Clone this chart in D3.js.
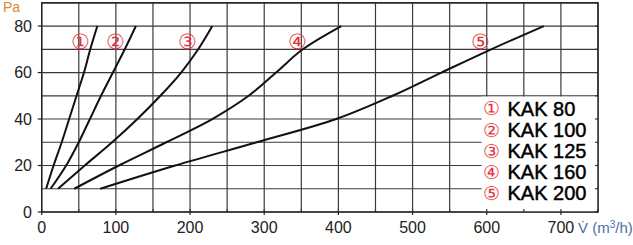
<!DOCTYPE html>
<html>
<head>
<meta charset="utf-8">
<script src="https://cdn.jsdelivr.net/npm/d3@7/dist/d3.min.js"></script>
<style>
  html, body { margin: 0; padding: 0; background: #fff; }
  svg { display: block; }
  text { font-family: "Liberation Sans", Arial, Helvetica, sans-serif; }
</style>
</head>
<body>
<svg id="chart" width="633" height="245"></svg>
<script>
// ---- data (pressure in Pa vs airflow in m³/h) ----
const seriesNames = ["KAK 80", "KAK 100", "KAK 125", "KAK 160", "KAK 200"];
const markers = ["①", "②", "③", "④", "⑤"];
const pressure = [10, 20, 30, 40, 50, 60, 70, 80];
const flowKAK80  = [6, 16, 27, 37, 47, 57, 65.5, 75];
const flowKAK100 = [12, 33, 50, 65, 80, 96, 112, 127];
const flowKAK125 = [22, 58, 95, 129, 160, 188, 211, 230];
const flowKAK160 = [44, 104, 168, 230, 279, 316, 352, 404];
const flowKAK200 = [79, 180, 290, 397, 473, 539, 606, 677];
const flows = [flowKAK80, flowKAK100, flowKAK125, flowKAK160, flowKAK200];
const markerFlow = [52, 99, 197, 345, 592];
const markerPressure = 73.5;
const xTicks = [0, 100, 200, 300, 400, 500, 600, 700];
const yTicks = [0, 20, 40, 60, 80];
const xGrid = d3.range(0, 751, 50);
const yGrid = d3.range(0, 91, 10);

// ---- scales ----
const x = d3.scaleLinear().domain([0, 750]).range([41.7, 598]);
const y = d3.scaleLinear().domain([0, 90]).range([212, 2.8]);

const svg = d3.select("#chart");
const red = "#e4343c";
const cjk = "'Noto Sans CJK JP', 'DejaVu Sans', sans-serif";

// grid
svg.append("g").selectAll("line").data(xGrid).join("line")
  .attr("x1", d => x(d)).attr("x2", d => x(d))
  .attr("y1", y(0)).attr("y2", y(90))
  .attr("stroke", "#3a3a3a").attr("stroke-width", 1.2);
svg.append("g").selectAll("line").data(yGrid).join("line")
  .attr("x1", x(0)).attr("x2", x(750))
  .attr("y1", d => y(d)).attr("y2", d => y(d))
  .attr("stroke", "#3a3a3a").attr("stroke-width", 1.2);

// legend background (covers grid)
svg.append("rect")
  .attr("x", x(593)).attr("y", y(50) + 0.8)
  .attr("width", x(750) - x(593)).attr("height", y(0) - y(50) - 0.8)
  .attr("fill", "#fff");

// inward ticks
svg.append("g").selectAll("line").data(xGrid).join("line")
  .attr("x1", d => x(d)).attr("x2", d => x(d))
  .attr("y1", y(0)).attr("y2", y(0) - 3)
  .attr("stroke", "#3a3a3a").attr("stroke-width", 1.2);
svg.append("g").selectAll("line").data(yGrid).join("line")
  .attr("x1", x(750)).attr("x2", x(750) - 3)
  .attr("y1", d => y(d)).attr("y2", d => y(d))
  .attr("stroke", "#3a3a3a").attr("stroke-width", 1.2);

// outer ticks
svg.append("g").selectAll("line").data(xTicks).join("line")
  .attr("x1", d => x(d)).attr("x2", d => x(d))
  .attr("y1", y(0)).attr("y2", y(0) + 3)
  .attr("stroke", "#222").attr("stroke-width", 1.2);
svg.append("g").selectAll("line").data(yTicks).join("line")
  .attr("x1", x(0) - 4).attr("x2", x(0))
  .attr("y1", d => y(d)).attr("y2", d => y(d))
  .attr("stroke", "#222").attr("stroke-width", 1.2);

// border
svg.append("rect")
  .attr("x", x(0)).attr("y", y(90))
  .attr("width", x(750) - x(0)).attr("height", y(0) - y(90))
  .attr("fill", "none").attr("stroke", "#222").attr("stroke-width", 1.4);

// curves
const line = d3.line()
  .x(d => x(d[0])).y(d => y(d[1]))
  .curve(d3.curveCatmullRom.alpha(0.5));
flows.forEach(f => {
  svg.append("path")
    .datum(f.map((v, i) => [v, pressure[i]]))
    .attr("d", line)
    .attr("fill", "none")
    .attr("stroke", "#111")
    .attr("stroke-width", 2);
});

// curve markers
svg.append("g").selectAll("text").data(markers).join("text")
  .attr("x", (d, i) => x(markerFlow[i]))
  .attr("y", y(markerPressure))
  .attr("dy", "0.36em")
  .attr("text-anchor", "middle")
  .attr("font-family", cjk)
  .attr("font-size", 21)
  .attr("fill", red)
  .text(d => d);

// tick labels
svg.append("g").selectAll("text").data(xTicks).join("text")
  .attr("x", d => x(d)).attr("y", 233.3)
  .attr("text-anchor", "middle")
  .attr("font-size", 16).attr("fill", "#222")
  .text(d => d);
svg.append("g").selectAll("text").data(yTicks).join("text")
  .attr("x", 32).attr("y", d => y(d))
  .attr("dy", "0.36em")
  .attr("text-anchor", "end")
  .attr("font-size", 16).attr("fill", "#222")
  .text(d => d);

// axis titles
svg.append("text").attr("x", 3).attr("y", 11.7)
  .attr("font-size", 14).attr("fill", "#d9892c").text("Pa");
const xt = svg.append("text").attr("x", 578).attr("y", 233.3)
  .attr("font-size", 15).attr("fill", "#4d6fa6");
xt.append("tspan").text("V\u0307 (m");
xt.append("tspan").attr("font-size", 10).attr("dy", -5).text("3");
xt.append("tspan").attr("dy", 5).text("/h)");

// legend
const lg = svg.append("g");
seriesNames.forEach((name, i) => {
  const by = 115.5 + i * 21.2;
  lg.append("text").attr("x", 491.5).attr("y", by - 7)
    .attr("dy", "0.36em")
    .attr("text-anchor", "middle")
    .attr("font-family", cjk)
    .attr("font-size", 19).attr("fill", red)
    .text(markers[i]);
  lg.append("text").attr("x", 507.5).attr("y", by)
    .attr("font-size", 20).attr("fill", "#000")
    .attr("stroke", "#000").attr("stroke-width", 0.45)
    .text(name);
});
</script>
</body>
</html>
